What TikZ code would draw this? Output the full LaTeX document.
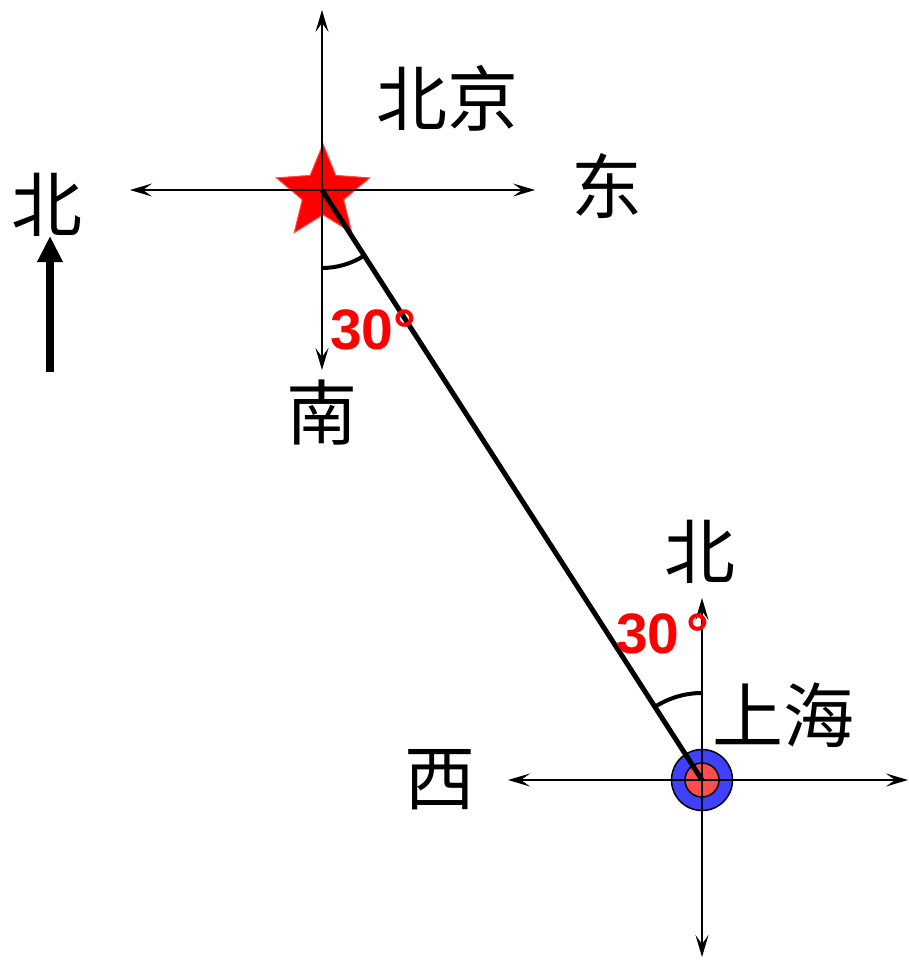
\documentclass[tikz,border=0pt]{standalone}
\usepackage{fontspec}
\newfontfamily\cjk{Noto Sans CJK SC}
\newfontfamily\arialf{Liberation Sans}
\usetikzlibrary{arrows.meta,shapes.geometric}
\tikzset{
  axisline/.style={line width=1.6pt,-{Stealth[length=22pt,width=13pt,inset=9pt]}},
  hanzi/.style={font=\cjk\fontsize{71}{71}\selectfont,inner sep=0pt},
  degtext/.style={font=\arialf\bfseries\fontsize{57}{57}\selectfont,text=red,inner sep=0pt},
  routeline/.style={line width=5pt},
  anglearc/.style={line width=4pt},
}
\begin{document}
\begin{tikzpicture}[x=1pt,y=-1pt]
\useasboundingbox (0,0) rectangle (909,960);
% Beijing
\coordinate (bj) at (322,190);
\coordinate (bjN) at (322,10);
\coordinate (bjS) at (322,370);
\coordinate (bjW) at (130,190);
\coordinate (bjE) at (535,190);
\node[star,star points=5,star point ratio=2.25,minimum size=98pt,inner sep=0pt,fill=red,draw=red!70!white,line width=1pt] (bjstar) at (323,193) {};
\draw[axisline] (bj) -- (bjN);
\draw[axisline] (bj) -- (bjS);
\draw[axisline] (bj) -- (bjW);
\draw[axisline] (bj) -- (bjE);
% Shanghai
\coordinate (sh) at (702,780);
\coordinate (shN) at (702,598);
\coordinate (shS) at (702,957);
\coordinate (shW) at (508,780);
\coordinate (shE) at (908,780);
\node[circle,minimum size=61pt,inner sep=0pt,fill=blue!75!white,draw=black,line width=1.5pt] (shouter) at (sh) {};
\node[circle,minimum size=34pt,inner sep=0pt,fill=red!70!white,draw=black,line width=1.5pt] (shinner) at (sh) {};
\draw[axisline] (sh) -- (shN);
\draw[axisline] (sh) -- (shS);
\draw[axisline] (sh) -- (shW);
\draw[axisline] (sh) -- (shE);
% route
\draw[routeline] (bj) -- (sh);
% angle marks
\draw[anglearc] (322,268) arc[start angle=-90,end angle=-57.2,radius=78pt];
\draw[anglearc] (702,693) arc[start angle=90,end angle=122.8,radius=87pt];
% labels
\node[hanzi] (lbj) at (447,98) {北京};
\node[hanzi] (least) at (607,186) {东};
\node[hanzi] (lsouth) at (322,413) {南};
\node[hanzi] (lnorth1) at (47,205) {北};
\node[hanzi] (lnorth2) at (700,552) {北};
\node[hanzi] (lsh) at (783,715) {上海};
\node[hanzi] (lwest) at (440,780) {西};
\node[degtext,anchor=west] (deg1) at (330,330) {30°};
\node[degtext,anchor=west] (deg2) at (616,634) {30\kern7pt°};
% north arrow
\coordinate (na1) at (50,372);
\coordinate (na2) at (50,236);
\draw[line width=7.5pt,-{Triangle[length=26pt,width=24pt]}] (na1) -- (na2);
\end{tikzpicture}
\end{document}
